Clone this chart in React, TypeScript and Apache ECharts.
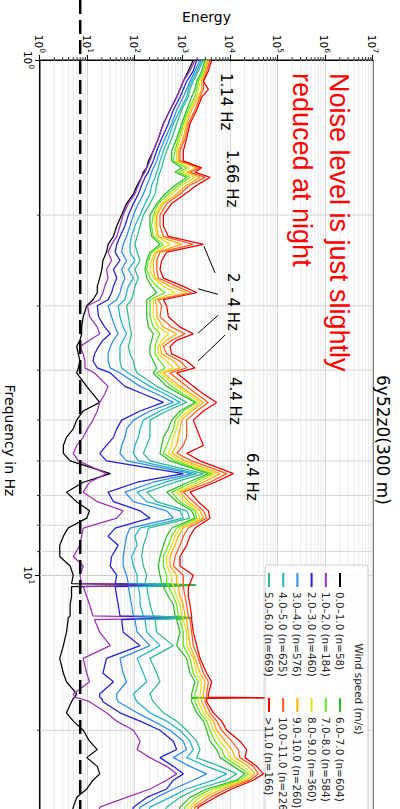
import React, { useEffect, useRef } from "react";
import * as echarts from "echarts";

// ---------- data ----------
const frequencyHz = [
  1.0, 1.05, 1.1, 1.14, 1.18, 1.25, 1.33, 1.42, 1.5, 1.57,
  1.62, 1.65, 1.69, 1.75, 1.82, 1.9, 2.0, 2.1, 2.2, 2.28,
  2.36, 2.45, 2.55, 2.65, 2.75, 2.83, 2.92, 3.0, 3.15, 3.3,
  3.4, 3.5, 3.6, 3.72, 3.84, 3.96, 4.05, 4.3, 4.45, 4.62,
  4.8, 5.0, 5.2, 5.4, 5.6, 5.8, 6.0, 6.35, 6.6, 6.9,
  7.2, 7.5, 7.75, 8.1, 8.4, 8.75, 9.2, 9.6, 10.0, 10.38,
  10.45, 10.52, 11.0, 11.4, 12.0, 12.1, 12.2, 12.9, 13.7, 14.5,
  15.5, 16.1, 17.0, 17.25, 17.3, 17.35, 17.6, 18.5, 19.2, 20.0,
  21.0, 21.8, 22.6, 23.5, 24.3, 25.0, 26.0, 27.0, 28.2, 30.0,
];

const windClasses = [
  "0.0–1.0 (n=58)", "1.0–2.0 (n=184)", "2.0–3.0 (n=460)", "3.0–4.0 (n=576)",
  "4.0–5.0 (n=625)", "5.0–6.0 (n=669)", "6.0–7.0 (n=604)", "7.0–8.0 (n=584)",
  "8.0–9.0 (n=360)", "9.0–10.0 (n=260)", "10.0–11.0 (n=226)", ">11.0 (n=166)",
];

const classColors = [
  "#000000", "#9a30b4", "#1f1fd0", "#2c8ce6", "#22b2c8", "#30b890",
  "#30b830", "#66e61a", "#e6e01a", "#ffb000", "#ff5a1e", "#e60000",
];

const energyWind0 = [
  1670, 1310, 1030, 877, 747, 541, 392, 307, 241, 190,
  175, 149, 137, 110, 92, 66, 52, 41, 35, 27,
  25, 21, 20, 18, 16, 16, 13, 9.6, 8.1, 7.5,
  7.5, 6.9, 5.9, 6.4, 6.9, 6.4, 5.9, 9.6, 13, 18,
  8.1, 5.9, 5.0, 3.6, 3.1, 3.1, 4.3, 30, 8.1, 3.6,
  5.9, 11, 9.6, 3.9, 3.1, 2.6, 2.6, 4.3, 5.0, 4.6,
  1670, 4.6, 4.6, 4.3, 4.3, 3.9, 3.9, 3.6, 3.1, 2.6,
  3.1, 3.6, 5.9, 5.4, 5.4, 5.0, 4.6, 3.6, 5.0, 8.1,
  11, 16, 9.6, 16, 18, 13, 9.6, 5.9, 5.0, 4.3,
];
const energyWind1 = [
  1810, 1420, 1030, 877, 747, 541, 392, 307, 241, 205,
  175, 161, 137, 117, 99, 72, 56, 48, 41, 32,
  27, 32, 25, 27, 23, 21, 18, 10, 11, 16,
  18, 11, 6.9, 8.1, 8.8, 8.8, 14, 27, 23, 18,
  16, 13, 10, 8.1, 5.9, 5.0, 6.4, 25, 11, 8.1,
  16, 56, 41, 8.1, 7.5, 6.9, 5.0, 8.1, 6.9, 7.5,
  1810, 8.1, 9.6, 11, 13, 1540, 14, 18, 30, 8.1,
  9.6, 11, 5.0, 5.4, 5.9, 6.9, 11, 25, 41, 92,
  127, 110, 205, 460, 747, 460, 205, 66, 18, 16,
];
const energyWind2 = [
  1970, 1670, 1210, 1030, 877, 635, 499, 361, 284, 241,
  205, 190, 161, 137, 117, 92, 72, 61, 48, 41,
  38, 48, 35, 41, 35, 32, 27, 16, 17, 23,
  30, 21, 17, 14, 13, 16, 30, 61, 149, 392,
  127, 52, 41, 35, 25, 18, 25, 1030, 110, 27,
  35, 127, 205, 38, 27, 44, 32, 30, 41, 38,
  1810, 38, 41, 44, 48, 1540, 52, 56, 127, 25,
  21, 35, 18, 18, 18, 20, 21, 48, 127, 333,
  635, 747, 333, 635, 1030, 635, 460, 175, 92, 78,
];
const energyWind3 = [
  2310, 1810, 1420, 1210, 1030, 747, 586, 425, 333, 284,
  241, 222, 205, 175, 149, 117, 92, 78, 66, 56,
  52, 66, 52, 61, 52, 48, 41, 27, 32, 38,
  44, 35, 30, 27, 27, 30, 48, 127, 284, 635,
  205, 92, 66, 61, 52, 48, 66, 1540, 241, 61,
  92, 460, 635, 78, 66, 61, 56, 56, 66, 72,
  1810, 72, 78, 84, 92, 1540, 99, 110, 205, 48,
  56, 66, 41, 41, 41, 41, 44, 110, 241, 541,
  1030, 1210, 635, 1420, 3190, 1670, 635, 284, 127, 110,
];
const energyWind4 = [
  2510, 1970, 1540, 1310, 1210, 877, 635, 499, 392, 333,
  307, 284, 262, 222, 205, 161, 127, 99, 84, 78,
  78, 99, 72, 92, 72, 66, 61, 44, 48, 56,
  66, 56, 48, 48, 48, 52, 72, 205, 425, 877,
  333, 149, 127, 117, 99, 92, 117, 1970, 425, 110,
  175, 877, 1030, 127, 99, 110, 84, 92, 110, 110,
  1810, 117, 127, 127, 149, 1540, 161, 175, 333, 110,
  149, 175, 92, 99, 99, 99, 110, 205, 460, 877,
  1420, 1670, 1210, 3190, 8400, 4400, 1210, 541, 205, 175,
];
const energyWind5 = [
  2720, 2130, 1670, 1420, 1310, 951, 747, 586, 460, 392,
  361, 333, 307, 284, 262, 205, 149, 127, 110, 99,
  110, 127, 99, 117, 99, 92, 84, 66, 72, 78,
  84, 78, 72, 78, 92, 99, 110, 284, 586, 1210,
  460, 205, 205, 205, 175, 149, 205, 2720, 689, 175,
  284, 1210, 1420, 190, 175, 149, 137, 149, 175, 161,
  1810, 175, 190, 205, 241, 1540, 262, 284, 635, 205,
  284, 333, 205, 222, 222, 222, 241, 392, 747, 1210,
  1970, 2310, 1970, 6080, 13600, 8400, 1970, 877, 460, 333,
];
const energyWind6 = [
  2950, 2510, 1970, 1810, 1540, 1210, 951, 747, 586, 586,
  951, 689, 1210, 689, 425, 284, 205, 205, 222, 333,
  205, 175, 161, 175, 222, 284, 175, 175, 175, 190,
  241, 222, 205, 205, 241, 284, 241, 460, 877, 1810,
  877, 586, 499, 392, 361, 333, 541, 3460, 1310, 460,
  747, 1540, 1810, 586, 460, 392, 333, 307, 333, 361,
  1970, 392, 499, 635, 689, 1540, 747, 877, 747, 1210,
  1420, 1810, 1540, 1540, 4400, 1540, 1540, 1970, 2720, 3190,
  3750, 5180, 6080, 11600, 20400, 13600, 3190, 1420, 877, 747,
];
const energyWind7 = [
  3190, 2720, 2130, 1970, 1810, 1310, 1030, 810, 689, 635,
  1210, 810, 1420, 810, 499, 307, 241, 222, 241, 392,
  222, 190, 175, 205, 284, 425, 205, 205, 205, 241,
  333, 284, 262, 262, 333, 425, 284, 586, 1030, 1970,
  1030, 689, 635, 541, 460, 392, 689, 4070, 1670, 586,
  877, 1810, 1970, 747, 586, 499, 392, 392, 460, 460,
  499, 499, 635, 747, 810, 877, 877, 1030, 1030, 1420,
  1670, 2130, 1810, 1810, 1810, 1810, 1810, 2310, 3190, 3750,
  4780, 6590, 7750, 14800, 24000, 16000, 4070, 1810, 1120, 951,
];
const energyWind8 = [
  3190, 2950, 2310, 2130, 1970, 1420, 1120, 877, 747, 747,
  1420, 951, 1810, 951, 586, 361, 262, 262, 284, 541,
  262, 222, 205, 241, 392, 689, 241, 241, 241, 307,
  499, 361, 307, 307, 460, 635, 333, 747, 1310, 2310,
  1310, 810, 747, 635, 586, 499, 877, 4780, 2130, 747,
  1120, 1970, 2310, 877, 689, 586, 460, 460, 586, 586,
  635, 635, 747, 877, 951, 1030, 1030, 1210, 1210, 1670,
  1970, 2510, 2310, 2310, 2310, 2130, 2130, 2720, 3750, 4400,
  6080, 8400, 9870, 18800, 28200, 18800, 5180, 2310, 1310, 1120,
];
const energyWind9 = [
  3460, 2950, 2510, 2510, 2130, 1540, 1210, 1030, 810, 810,
  1970, 1210, 2310, 1210, 747, 392, 284, 284, 307, 951,
  284, 241, 241, 262, 541, 1210, 262, 284, 284, 392,
  747, 460, 333, 361, 635, 877, 392, 877, 1540, 2720,
  1540, 951, 877, 810, 747, 586, 1120, 6080, 2720, 877,
  1310, 2310, 2720, 1030, 810, 689, 541, 541, 747, 747,
  810, 810, 877, 1030, 1120, 1210, 1210, 1310, 1420, 1810,
  2310, 2950, 2720, 2720, 2720, 2510, 2510, 3190, 4400, 5180,
  7750, 10700, 12600, 24000, 33100, 22100, 6590, 2950, 1540, 1310,
];
const energyWind10 = [
  3750, 3190, 2720, 2720, 2310, 1810, 1310, 1120, 877, 877,
  2310, 1420, 2950, 1420, 877, 460, 333, 333, 392, 1670,
  333, 284, 284, 307, 747, 1540, 307, 361, 333, 586,
  1120, 586, 392, 460, 877, 1210, 541, 1210, 1970, 3460,
  1970, 1210, 1210, 1210, 1030, 747, 1540, 8400, 3750, 1030,
  1670, 2720, 3190, 1310, 1030, 877, 689, 635, 1030, 1030,
  1030, 1030, 1120, 1210, 1310, 1420, 1420, 1540, 1670, 2130,
  2720, 3460, 3190, 3190, 3190, 2950, 2950, 3750, 5180, 6590,
  10700, 14800, 16000, 30500, 38900, 26000, 8400, 3750, 1810, 1540,
];
const energyWind11 = [
  4070, 3460, 2720, 3460, 2510, 1970, 1420, 1210, 1030, 1030,
  2510, 1810, 3750, 1970, 1120, 586, 392, 392, 499, 2720,
  460, 361, 333, 392, 1030, 1970, 392, 460, 499, 877,
  1670, 747, 541, 586, 1210, 1810, 747, 1670, 2720, 5180,
  2720, 1670, 1970, 2310, 2720, 1210, 2310, 11600, 4780, 1420,
  2130, 3460, 3750, 1810, 1420, 1210, 877, 877, 1670, 1420,
  1420, 1310, 1310, 1420, 1540, 1540, 1540, 1670, 1970, 2310,
  3190, 4070, 3460, 3460, 80400, 3190, 3190, 4400, 6590, 8400,
  16000, 22100, 20400, 35900, 49600, 30500, 10700, 4780, 2130, 1810,
];

const energyByClass = [
  energyWind0, energyWind1, energyWind2, energyWind3, energyWind4, energyWind5,
  energyWind6, energyWind7, energyWind8, energyWind9, energyWind10, energyWind11,
];

// axes
const frequencyMin = 1;
const frequencyMax = 30;
const energyMin = 1;
const energyMax = 1e7;
const frequencyMinorTicks = [2, 3, 4, 5, 6, 7, 8, 9, 20, 30];
const energyMinorMultipliers = [2, 3, 4, 5, 6, 7, 8, 9];
const energyDecades = [1, 10, 100, 1000, 1e4, 1e5, 1e6];

// dashed noise floor
const noiseFloorEnergy = 7;

// "2 - 4 Hz" pointer segments, [frequency, energy]
const pointerSegments = [
  [[2.3, 2800], [2.59, 4780]],
  [[2.78, 2100], [2.85, 5520]],
  [[3.39, 2100], [3.13, 5520]],
  [[3.84, 2100], [3.42, 7750]],
];

const peakLabels = [
  { text: "1.14 Hz", x: 73, y: 174 },
  { text: "1.66 Hz", x: 150, y: 168 },
  { text: "2 - 4 Hz", x: 273, y: 167 },
  { text: "4.4 Hz", x: 377, y: 165 },
  { text: "6.4 Hz", x: 453, y: 148 },
];

const FONT = "DejaVu Sans";

function decadeLabel(v: number): string {
  const e = Math.round(Math.log10(v));
  if (Math.abs(v / Math.pow(10, e) - 1) > 1e-6) return "";
  return `{b|10}{s|${e}}`;
}

const labelRich = {
  b: { fontSize: 10.5, fontFamily: FONT, color: "#000", verticalAlign: "bottom" },
  s: { fontSize: 7.5, fontFamily: FONT, color: "#000", verticalAlign: "bottom", padding: [0, 0, 5, 0] },
};

export default function App() {
  const ref = useRef<HTMLDivElement>(null);

  useEffect(() => {
    document.body.style.margin = "0";
    const el = ref.current!;
    const chart = echarts.init(el, undefined, { renderer: "svg" });

    const energyMinor: number[] = [];
    energyDecades.forEach((d) => energyMinorMultipliers.forEach((m) => energyMinor.push(d * m)));

    const lineSeries = energyByClass.map((arr, k) => ({
      name: windClasses[k],
      type: "line",
      color: classColors[k],
      data: frequencyHz.map((f, i) => [f, arr[i]]),
      showSymbol: false,
      symbol: "none",
      lineStyle: { width: 1.25, color: classColors[k] },
      z: 3,
      silent: true,
      clip: true,
    }));

    const option: any = {
      animation: false,
      backgroundColor: "#ffffff",
      grid: { left: 60, top: 27, width: 761, height: 333, show: true, borderColor: "#000", borderWidth: 1, containLabel: false, outerBoundsMode: "none" },
      xAxis: {
        type: "log",
        logBase: 10,
        min: frequencyMin,
        max: frequencyMax,
        name: "Frequency in Hz",
        nameLocation: "middle",
        nameGap: 23,
        nameTextStyle: { fontSize: 14, fontFamily: FONT, color: "#000" },
        axisLine: { show: true, onZero: false, lineStyle: { color: "#000", width: 1 } },
        axisTick: { show: true, inside: false, length: 5, lineStyle: { color: "#000", width: 1 } },
        axisLabel: { formatter: decadeLabel, rich: labelRich, margin: 5, showMaxLabel: false },
        splitLine: { show: true, lineStyle: { color: "#cccccc", width: 1 } },
        minorTick: { show: false },
        minorSplitLine: { show: false },
      },
      yAxis: {
        type: "log",
        logBase: 10,
        min: energyMin,
        max: energyMax,
        name: "Energy",
        nameLocation: "middle",
        nameGap: 33,
        nameRotate: 90,
        nameTextStyle: { fontSize: 14, fontFamily: FONT, color: "#000" },
        axisLine: { show: true, onZero: false, lineStyle: { color: "#000", width: 1 } },
        axisTick: { show: true, inside: false, length: 5, lineStyle: { color: "#000", width: 1 } },
        axisLabel: { formatter: decadeLabel, rich: labelRich, margin: 7 },
        splitLine: { show: true, lineStyle: { color: "#d4d4d4", width: 1 } },
        minorTick: { show: false },
        minorSplitLine: { show: false },
      },
      legend: [
        {
          data: windClasses.slice(0, 6),
          orient: "vertical",
          left: 568,
          top: 49,
          itemWidth: 14,
          itemHeight: 2,
          itemGap: 2.2,
          icon: "rect",
          selectedMode: false,
          textStyle: { fontSize: 10.4, fontFamily: FONT, color: "#222", lineHeight: 12 },
          z: 6,
        },
        {
          data: windClasses.slice(6),
          orient: "vertical",
          left: 693,
          top: 49,
          itemWidth: 14,
          itemHeight: 2,
          itemGap: 2.2,
          icon: "rect",
          selectedMode: false,
          textStyle: { fontSize: 10.4, fontFamily: FONT, color: "#222", lineHeight: 12 },
          z: 6,
        },
      ],
      series: [
        {
          type: "custom",
          name: "energyMinorGrid",
          coordinateSystem: "cartesian2d",
          data: energyMinor.map((v) => [frequencyMin, v]),
          encode: { x: 0, y: 1 },
          clip: false,
          silent: true,
          z: 1,
          renderItem: (params: any, api: any) => {
            const p = api.coord([api.value(0), api.value(1)]);
            const cs = params.coordSys;
            return {
              type: "group",
              children: [
                { type: "line", shape: { x1: cs.x, y1: p[1], x2: cs.x + cs.width, y2: p[1] }, style: { stroke: "#e6e6e6", lineWidth: 0.8 } },
                { type: "line", shape: { x1: cs.x - 3, y1: p[1], x2: cs.x, y2: p[1] }, style: { stroke: "#000", lineWidth: 0.8 } },
              ],
            };
          },
        },
        {
          type: "custom",
          name: "frequencyMinorGrid",
          coordinateSystem: "cartesian2d",
          data: frequencyMinorTicks.map((v) => [v, energyMin]),
          encode: { x: 0, y: 1 },
          clip: false,
          silent: true,
          z: 1,
          renderItem: (params: any, api: any) => {
            const p = api.coord([api.value(0), api.value(1)]);
            const cs = params.coordSys;
            return {
              type: "group",
              children: [
                { type: "line", shape: { x1: p[0], y1: cs.y, x2: p[0], y2: cs.y + cs.height }, style: { stroke: "#d0d0d0", lineWidth: 0.9 } },
                { type: "line", shape: { x1: p[0], y1: cs.y + cs.height, x2: p[0], y2: cs.y + cs.height + 3 }, style: { stroke: "#000", lineWidth: 0.8 } },
              ],
            };
          },
        },
        ...lineSeries,
        {
          type: "lines",
          name: "pointers",
          coordinateSystem: "cartesian2d",
          data: pointerSegments.map((c) => ({ coords: c })),
          lineStyle: { color: "#000", width: 1, opacity: 1 },
          silent: true,
          z: 8,
        },
      ],
    };

    chart.setOption(option);

    const yNoise = chart.convertToPixel({ yAxisIndex: 0 }, noiseFloorEnergy) as number;
    const xEnd = chart.convertToPixel({ xAxisIndex: 0 }, frequencyMax) as number;

    const graphics: any[] = [
      {
        type: "rect",
        z: 5,
        shape: { x: 565, y: 32, width: 250, height: 103, r: 3 },
        style: { fill: "rgba(255,255,255,0.85)", stroke: "#cccccc", lineWidth: 1 },
        silent: true,
      },
      {
        type: "text",
        z: 7,
        x: 689,
        y: 41,
        style: { text: "Wind speed (m/s)", fontSize: 10.4, fontFamily: FONT, fill: "#222", align: "center", verticalAlign: "middle" },
        silent: true,
      },
      {
        type: "text",
        z: 7,
        x: 440,
        y: 17,
        style: { text: "6y52z0(300 m)", fontSize: 17, fontFamily: FONT, fill: "#000", align: "center", verticalAlign: "middle" },
        silent: true,
      },
      {
        type: "text",
        z: 7,
        x: 73,
        y: 61,
        style: { text: "Noise level is just slightly", fontSize: 27, fontFamily: "Liberation Sans", fill: "#ff0000", align: "left", verticalAlign: "middle" },
        silent: true,
      },
      {
        type: "text",
        z: 7,
        x: 73,
        y: 98,
        style: { text: "reduced at night", fontSize: 27, fontFamily: "Liberation Sans", fill: "#ff0000", align: "left", verticalAlign: "middle" },
        silent: true,
      },
      ...peakLabels.map((p) => ({
        type: "text",
        z: 7,
        x: p.x,
        y: p.y,
        style: { text: p.text, fontSize: 15, fontFamily: FONT, fill: "#000", align: "left", verticalAlign: "middle" },
        silent: true,
      })),
      {
        type: "line",
        z: 9,
        shape: { x1: 0, y1: yNoise, x2: xEnd, y2: yNoise },
        style: { stroke: "#000", lineWidth: 2.5, lineDash: [14, 6] },
        silent: true,
      },
    ];
    chart.setOption({ graphic: graphics });

    return () => {
      chart.dispose();
    };
  }, []);

  return (
    <div style={{ position: "fixed", left: 0, top: 0, width: 400, height: 809, overflow: "hidden", background: "#fff" }}>
      <div
        ref={ref}
        style={{
          position: "absolute",
          left: 0,
          top: 0,
          width: 840,
          height: 400,
          transformOrigin: "0 0",
          transform: "translate(400px, 0px) rotate(90deg)",
        }}
      />
    </div>
  );
}
